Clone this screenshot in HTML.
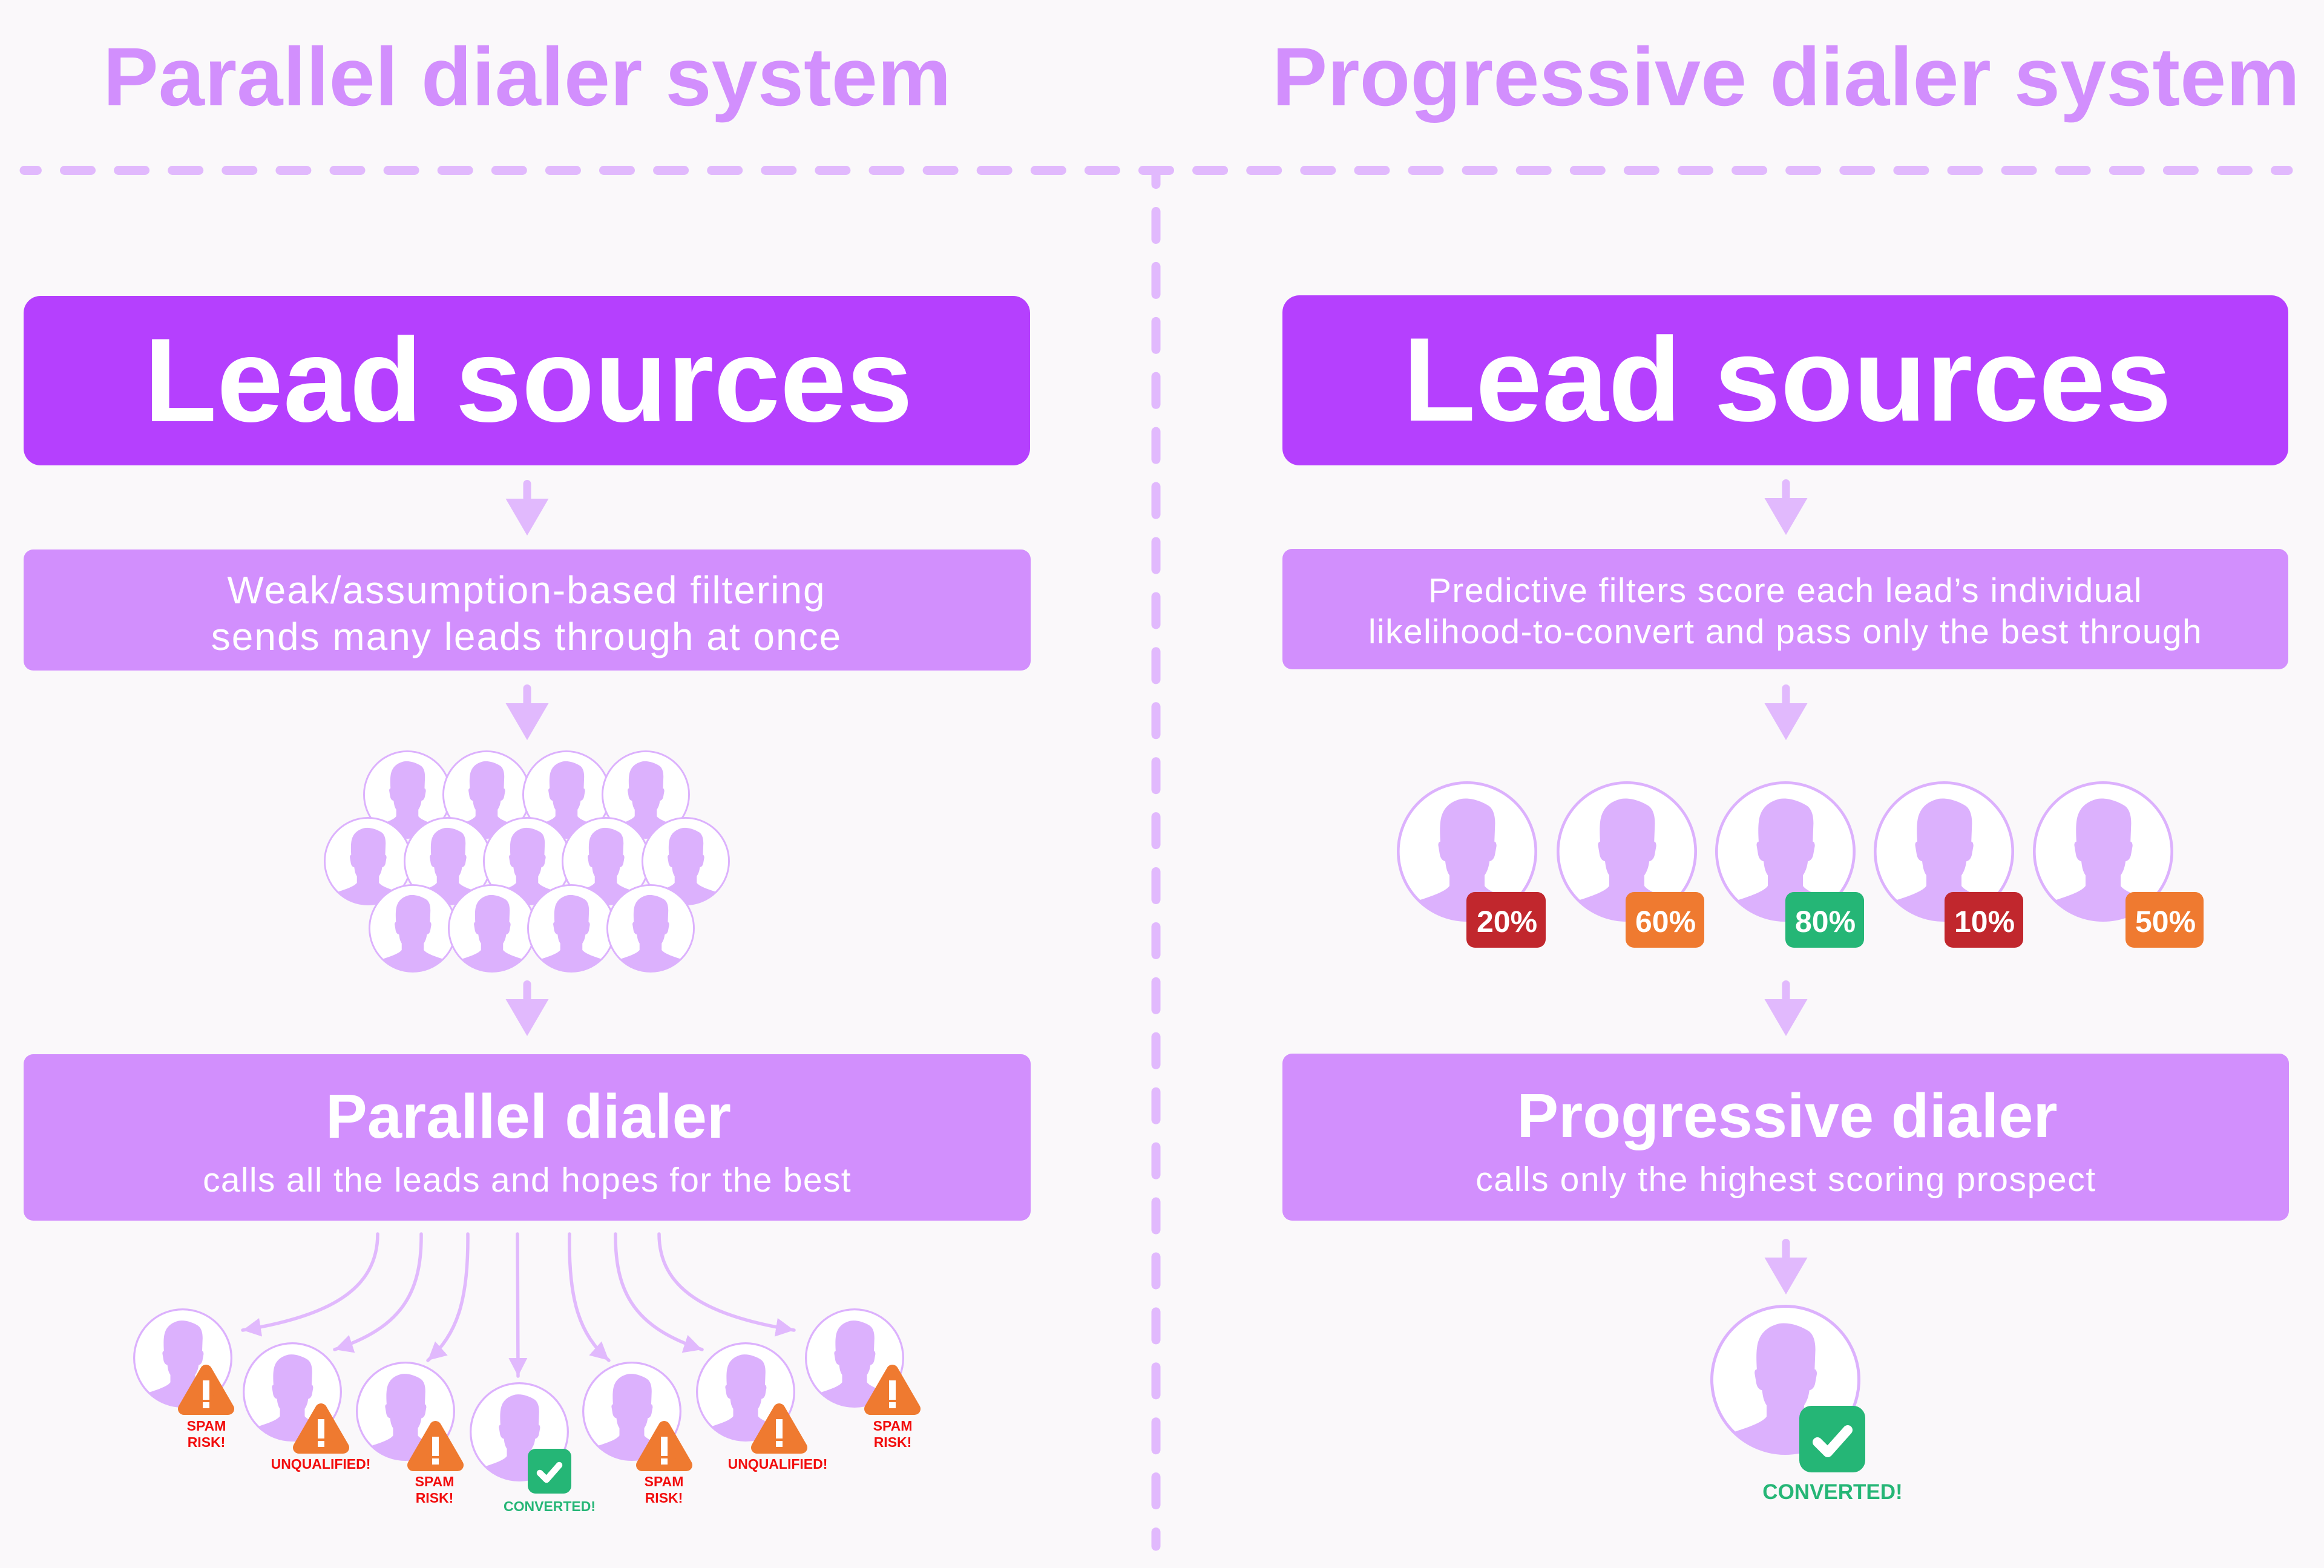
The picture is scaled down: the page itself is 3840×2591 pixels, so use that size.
<!DOCTYPE html>
<html>
<head>
<meta charset="utf-8">
<style>
  html,body{margin:0;padding:0;background:#faf8fa;}
  svg{display:block;}
  text{font-family:"Liberation Sans", Arial, sans-serif;}
</style>
</head>
<body>
<svg width="3840" height="2591" viewBox="0 0 3840 2591" xmlns="http://www.w3.org/2000/svg">
  <defs>
    <clipPath id="cc"><circle cx="0" cy="0" r="98"/></clipPath>
    <g id="pp">
      <circle cx="0" cy="0" r="98" fill="#ffffff"/>
      <path clip-path="url(#cc)" fill="#dcb1fd" d="M -25 49 L -25 34 C -29 28, -30 22, -31 14 C -35 13, -38 10, -39 3 L -41 -9 C -41 -13, -39 -14, -38 -14 C -39 -30, -39 -45, -35 -54 C -30 -66, -20 -72, -8 -75 C 5 -77, 20 -72, 31 -65 C 38 -60, 40 -50, 40 -40 L 39 -14 C 41 -14, 42 -11, 42 -8 L 40 3 C 39 10, 36 13, 32 14 C 31 22, 29 28, 25 34 L 25 49 C 30 56, 45 62, 67 69 L 120 85 L 120 130 L -120 130 L -120 85 L -67 69 C -45 62, -30 56, -25 49 Z"/>
      <circle cx="0" cy="0" r="98" fill="none" stroke="#dcb1fd" stroke-width="4"/>
    </g>
    <g id="arr">
      <rect x="-6.5" y="0" width="13" height="36" rx="6.5" fill="#e1b9fd"/>
      <polygon points="-35.5,31 35.5,31 0,92" fill="#e1b9fd"/>
    </g>
    <g id="warn">
      <polygon points="46.5,10 83,73 10,73" fill="#ef7a30" stroke="#ef7a30" stroke-width="20" stroke-linejoin="round"/>
      <rect x="41" y="26" width="11" height="32" fill="#ffffff"/>
      <rect x="41" y="62" width="11" height="10" fill="#ffffff"/>
    </g>
    <g id="chk">
      <rect x="0" y="0" width="72" height="74" rx="13" fill="#25b676"/>
      <polyline points="20,40 31,51 52,27" fill="none" stroke="#ffffff" stroke-width="10.5" stroke-linecap="round" stroke-linejoin="round"/>
    </g>
    <marker id="ah" markerUnits="userSpaceOnUse" markerWidth="40" markerHeight="40" refX="30" refY="15.5" orient="auto">
      <path d="M0 0 L30 15.5 L0 31 Z" fill="#e1b9fd"/>
    </marker>
  </defs>

  <rect x="0" y="0" width="3840" height="2591" fill="#faf8fa"/>

  <!-- Titles -->
  <text x="871" y="174" font-size="137" font-weight="bold" fill="#d28ffd" text-anchor="middle">Parallel dialer system</text>
  <text x="2951" y="174" font-size="137" font-weight="bold" fill="#d28ffd" text-anchor="middle">Progressive dialer system</text>

  <!-- Dashed separators -->
  <line x1="40" y1="281.5" x2="3781" y2="281.5" stroke="#e1b9fd" stroke-width="15" stroke-linecap="round" stroke-dasharray="44 45.1" stroke-dashoffset="22.6"/>
  <line x1="1910" y1="282" x2="1910" y2="2555" stroke="#e1b9fd" stroke-width="15" stroke-linecap="round" stroke-dasharray="46 44.92" stroke-dashoffset="23.42"/>

  <!-- LEFT COLUMN -->
  <rect x="39" y="489" width="1663" height="280" rx="28" fill="#b540fe"/>
  <text x="873" y="696" font-size="197" font-weight="bold" fill="#ffffff" text-anchor="middle">Lead sources</text>

  <use href="#arr" transform="translate(871 793)"/>

  <rect x="39" y="908" width="1664" height="200" rx="16" fill="#d28ffd"/>
  <text x="870" y="997" font-size="64" fill="#ffffff" text-anchor="middle" letter-spacing="2">Weak/assumption-based filtering</text>
  <text x="870" y="1074" font-size="64" fill="#ffffff" text-anchor="middle" letter-spacing="2">sends many leads through at once</text>

  <use href="#arr" transform="translate(871 1131)"/>

  <!-- Cluster -->
  <use href="#pp" transform="translate(673 1313) scale(0.73)"/>
  <use href="#pp" transform="translate(804 1313) scale(0.73)"/>
  <use href="#pp" transform="translate(936 1313) scale(0.73)"/>
  <use href="#pp" transform="translate(1067 1313) scale(0.73)"/>
  <use href="#pp" transform="translate(608 1423) scale(0.73)"/>
  <use href="#pp" transform="translate(740 1423) scale(0.73)"/>
  <use href="#pp" transform="translate(871 1423) scale(0.73)"/>
  <use href="#pp" transform="translate(1001 1423) scale(0.73)"/>
  <use href="#pp" transform="translate(1133 1423) scale(0.73)"/>
  <use href="#pp" transform="translate(682 1534) scale(0.73)"/>
  <use href="#pp" transform="translate(813 1534) scale(0.73)"/>
  <use href="#pp" transform="translate(944 1534) scale(0.73)"/>
  <use href="#pp" transform="translate(1075 1534) scale(0.73)"/>

  <use href="#arr" transform="translate(871 1620)"/>

  <rect x="39" y="1742" width="1664" height="275" rx="16" fill="#d28ffd"/>
  <text x="873" y="1880" font-size="103" font-weight="bold" fill="#ffffff" text-anchor="middle">Parallel dialer</text>
  <text x="871" y="1969" font-size="57" fill="#ffffff" text-anchor="middle" letter-spacing="1.3">calls all the leads and hopes for the best</text>

  <!-- Fan arrows -->
  <g fill="none" stroke="#e1b9fd" stroke-width="5.5" stroke-linecap="round" marker-end="url(#ah)">
    <path d="M624 2039 C 624 2130, 545 2175, 401 2198"/>
    <path d="M696 2039 C 697 2140, 660 2195, 553 2230"/>
    <path d="M773 2039 C 774 2150, 755 2205, 707 2248"/>
    <path d="M855 2039 L 856 2274"/>
    <path d="M941 2039 C 939 2150, 958 2205, 1006 2248"/>
    <path d="M1017 2039 C 1016 2140, 1053 2195, 1160 2230"/>
    <path d="M1089 2039 C 1089 2130, 1168 2175, 1312 2198"/>
  </g>

  <!-- Bottom-left people -->
  <use href="#pp" transform="translate(302 2244) scale(0.82)"/>
  <use href="#pp" transform="translate(483 2300) scale(0.82)"/>
  <use href="#pp" transform="translate(670 2332) scale(0.82)"/>
  <use href="#pp" transform="translate(858 2366) scale(0.82)"/>
  <use href="#pp" transform="translate(1044 2332) scale(0.82)"/>
  <use href="#pp" transform="translate(1232 2300) scale(0.82)"/>
  <use href="#pp" transform="translate(1412 2244) scale(0.82)"/>

  <use href="#warn" transform="translate(294 2255)"/>
  <use href="#warn" transform="translate(484 2319)"/>
  <use href="#warn" transform="translate(673 2348)"/>
  <use href="#chk" transform="translate(872 2394)"/>
  <use href="#warn" transform="translate(1051 2348)"/>
  <use href="#warn" transform="translate(1241 2319)"/>
  <use href="#warn" transform="translate(1428 2255)"/>

  <g font-size="23" font-weight="bold" fill="#f20d0d" text-anchor="middle">
    <text x="341" y="2364">SPAM</text>
    <text x="341" y="2391">RISK!</text>
    <text x="530" y="2427">UNQUALIFIED!</text>
    <text x="718" y="2456">SPAM</text>
    <text x="718" y="2483">RISK!</text>
    <text x="1097" y="2456">SPAM</text>
    <text x="1097" y="2483">RISK!</text>
    <text x="1285" y="2427">UNQUALIFIED!</text>
    <text x="1475" y="2364">SPAM</text>
    <text x="1475" y="2391">RISK!</text>
  </g>
  <text x="908" y="2497" font-size="23" font-weight="bold" fill="#25b676" text-anchor="middle">CONVERTED!</text>

  <!-- RIGHT COLUMN -->
  <rect x="2119" y="488" width="1662" height="281" rx="28" fill="#b540fe"/>
  <text x="2953" y="695" font-size="197" font-weight="bold" fill="#ffffff" text-anchor="middle">Lead sources</text>

  <use href="#arr" transform="translate(2951 792)"/>

  <rect x="2119" y="907" width="1662" height="199" rx="16" fill="#d28ffd"/>
  <text x="2950" y="995" font-size="57" fill="#ffffff" text-anchor="middle" letter-spacing="1.4">Predictive filters score each lead’s individual</text>
  <text x="2950" y="1063" font-size="57" fill="#ffffff" text-anchor="middle" letter-spacing="1.4">likelihood-to-convert and pass only the best through</text>

  <use href="#arr" transform="translate(2951 1131)"/>

  <use href="#pp" transform="translate(2424 1407) scale(1.16)"/>
  <use href="#pp" transform="translate(2688 1407) scale(1.16)"/>
  <use href="#pp" transform="translate(2950 1407) scale(1.16)"/>
  <use href="#pp" transform="translate(3212 1407) scale(1.16)"/>
  <use href="#pp" transform="translate(3475 1407) scale(1.16)"/>

  <rect x="2423" y="1474" width="131" height="92" rx="14" fill="#c1272d"/>
  <rect x="2686" y="1474" width="130" height="92" rx="14" fill="#ef7a30"/>
  <rect x="2950" y="1474" width="130" height="92" rx="14" fill="#25b676"/>
  <rect x="3213" y="1474" width="130" height="92" rx="14" fill="#c1272d"/>
  <rect x="3512" y="1474" width="129" height="92" rx="14" fill="#ef7a30"/>
  <g font-size="50" font-weight="bold" fill="#ffffff" text-anchor="middle">
    <text x="2490" y="1540">20%</text>
    <text x="2752" y="1540">60%</text>
    <text x="3016" y="1540">80%</text>
    <text x="3279" y="1540">10%</text>
    <text x="3578" y="1540">50%</text>
  </g>

  <use href="#arr" transform="translate(2951 1620)"/>

  <rect x="2119" y="1741" width="1663" height="276" rx="16" fill="#d28ffd"/>
  <text x="2953" y="1879" font-size="103" font-weight="bold" fill="#ffffff" text-anchor="middle">Progressive dialer</text>
  <text x="2951" y="1968" font-size="57" fill="#ffffff" text-anchor="middle" letter-spacing="1.6">calls only the highest scoring prospect</text>

  <use href="#arr" transform="translate(2951 2047)"/>

  <use href="#pp" transform="translate(2950 2280) scale(1.24)"/>
  <rect x="2973" y="2323" width="109" height="110" rx="20" fill="#25b676"/>
  <polyline points="3003,2383 3020,2400 3053,2363" fill="none" stroke="#ffffff" stroke-width="16" stroke-linecap="round" stroke-linejoin="round"/>
  <text x="3028" y="2477" font-size="35" font-weight="bold" fill="#25b676" text-anchor="middle">CONVERTED!</text>
</svg>
</body>
</html>
